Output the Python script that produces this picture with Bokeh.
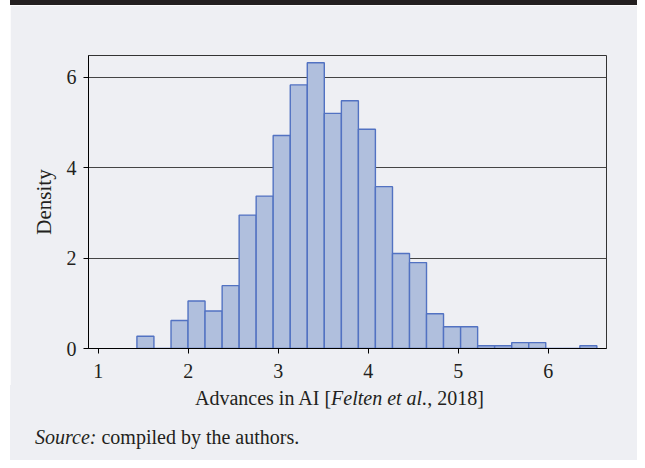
from bokeh.plotting import figure
from bokeh.models import Range1d, FixedTicker, ColumnDataSource, Div, Spacer
from bokeh.layouts import column, row
from bokeh.embed import file_html
from bokeh.resources import INLINE

# ---- data ----
bin_edges = [1.430, 1.619, 1.809, 1.998, 2.187, 2.377, 2.566, 2.755, 2.944,
             3.134, 3.323, 3.512, 3.702, 3.891, 4.080, 4.270, 4.459, 4.648,
             4.837, 5.027, 5.216, 5.405, 5.595, 5.784, 5.973, 6.162, 6.352, 6.541]
density = [0.27, 0.00, 0.62, 1.05, 0.83, 1.39, 2.95, 3.37, 4.71, 5.83, 6.32,
           5.20, 5.48, 4.85, 3.58, 2.10, 1.90, 0.77, 0.48, 0.48, 0.06, 0.06,
           0.13, 0.13, 0.00, 0.00, 0.06]
x_ticks = [1, 2, 3, 4, 5, 6]
y_ticks = [0, 2, 4, 6]
y_label = "Density"
x_label_html = "Advances in AI [<i>Felten et al.</i>, 2018]"
source_html = "<i>Source:</i> compiled by the authors."

BG = "#eeeff3"
FONT = "'Liberation Serif', serif"
TXT = "#231f20"

X0, X1 = 0.892, 6.648
Y0, Y1 = 0.0, 6.48

p = figure(width=627, height=380, output_backend="svg", toolbar_location=None,
           x_range=Range1d(X0, X1), y_range=Range1d(Y0, Y1),
           min_border_left=78, min_border_right=31, min_border_top=50,
           min_border_bottom=37)
p.background_fill_color = BG
p.border_fill_color = BG
p.outline_line_color = "#333333"
p.outline_line_width = 1

src = ColumnDataSource(dict(left=bin_edges[:-1], right=bin_edges[1:],
                            top=density, bottom=[0] * len(density)))
p.quad(left="left", right="right", top="top", bottom="bottom", source=src,
       fill_color="#b0bfdd", line_color="#5272c2", line_width=1.4)

p.xgrid.visible = False
p.ygrid.ticker = FixedTicker(ticks=y_ticks)
p.ygrid.grid_line_color = "#444444"
p.ygrid.grid_line_width = 1
p.ygrid.level = "underlay"

for ax in (p.xaxis[0], p.yaxis[0]):
    ax.axis_line_color = "black"
    ax.major_tick_line_color = "black"
    ax.major_tick_out = 5
    ax.major_tick_in = 0
    ax.minor_tick_line_color = None
    ax.major_label_text_font = FONT
    ax.major_label_text_font_size = "20px"
    ax.major_label_text_color = TXT
p.xaxis.major_label_standoff = 10
p.yaxis.major_label_standoff = 7
p.xaxis.ticker = FixedTicker(ticks=x_ticks)
p.yaxis.ticker = FixedTicker(ticks=y_ticks)
p.yaxis.axis_label = y_label
p.yaxis.axis_label_text_font = FONT
p.yaxis.axis_label_text_font_size = "21px"
p.yaxis.axis_label_text_font_style = "normal"
p.yaxis.axis_label_text_color = TXT
p.yaxis.axis_label_standoff = 8

top_bar = Div(text="", width=627, height=5, margin=0,
              styles={"background-color": "#231f20"})

span_style = ("position:absolute; white-space:nowrap; font-family:'Liberation Serif', serif;"
              f" font-size:20px; line-height:20px; color:{TXT};")
text_html = (
    f"<div style='position:relative; width:627px; height:75px; background:{BG};'>"
    f"<div style=\"{span_style} left:185px; top:3px;\">{x_label_html}</div>"
    f"<div style=\"{span_style} left:25px; top:42px;\">{source_html}</div>"
    "</div>"
)
text_div = Div(text=text_html, width=627, height=75, margin=0,
               styles={"background-color": BG})

layout = row(Spacer(width=10, height=460, margin=0),
             column(top_bar, p, text_div, spacing=0),
             spacing=0)

open("out.html", "w").write(file_html(layout, INLINE))
